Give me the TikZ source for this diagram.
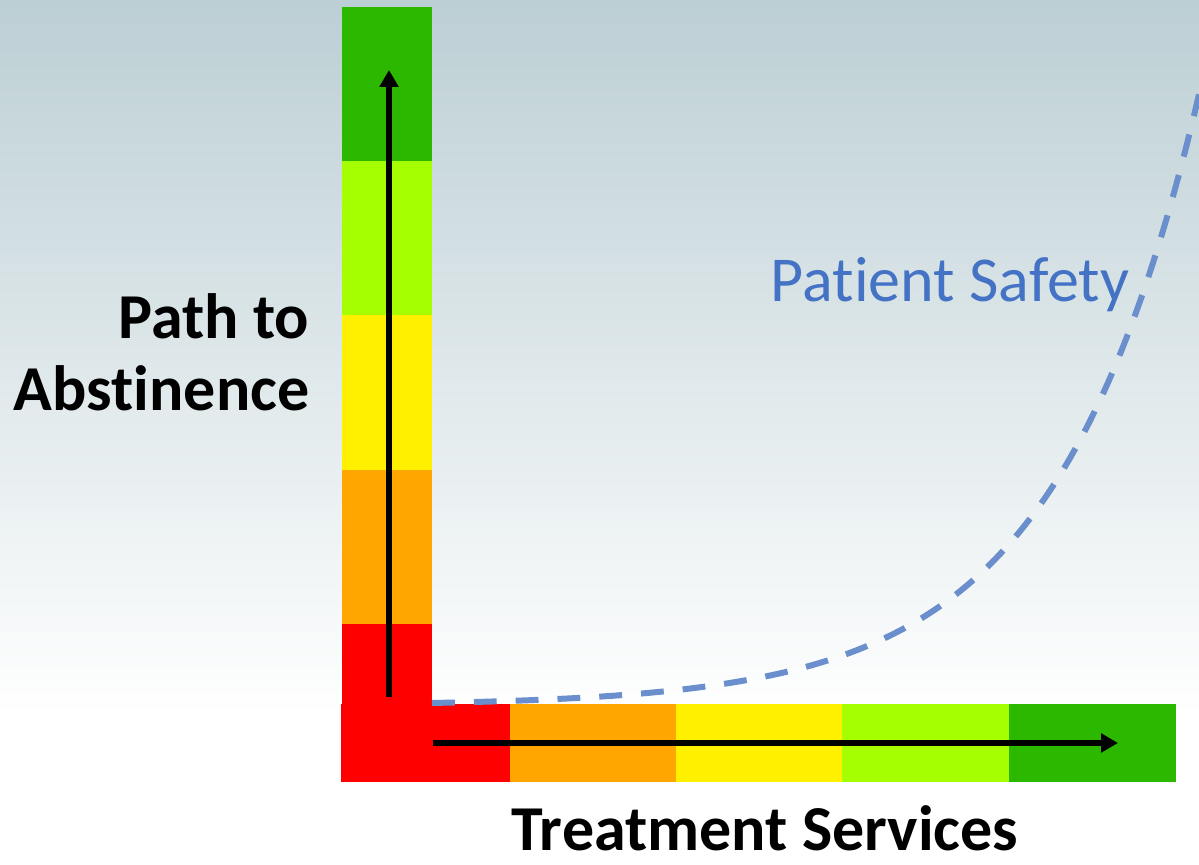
\documentclass[tikz,border=0pt]{standalone}
\usepackage{fontspec}
\setmainfont{Carlito}[Ligatures=NoCommon]
\usetikzlibrary{arrows.meta}

\definecolor{bgtop}{RGB}{188,207,212}
\definecolor{segred}{RGB}{255,0,0}
\definecolor{segorange}{RGB}{255,166,0}
\definecolor{segyellow}{RGB}{255,240,0}
\definecolor{seglime}{RGB}{166,255,0}
\definecolor{seggreen}{RGB}{45,184,0}
\definecolor{safetyblue}{RGB}{68,114,196}
\definecolor{curveblue}{RGB}{106,143,204}

\tikzset{
  seg/.style={rectangle, inner sep=0pt, outer sep=0pt, draw=none},
  vseg/.style={seg, minimum width=0.9cm, minimum height=1.555cm},
  hseg/.style={seg, minimum width=1.675cm, minimum height=0.78cm},
  axisarrow/.style={line width=1.7pt, -{Triangle[width=5.2pt, length=4.8pt]}},
  axislabel/.style={inner sep=0pt, font=\fontsize{18.2pt}{20.5pt}\selectfont\bfseries},
  safetycurve/.style={curveblue, line width=1.7pt, dash pattern=on 6.5pt off 5.4pt}
}

\begin{document}
\begin{tikzpicture}[x=0.01cm, y=-0.01cm]
				\useasboundingbox (0,0) rectangle (1199,865);
				\shade[top color=bgtop, bottom color=white] (0,0) rectangle (1199,715);
				% vertical bar
				\node[vseg, fill=seggreen] (v5) at (387,85) {};
				\node[vseg, fill=seglime] (v4) at (387,239) {};
				\node[vseg, fill=segyellow] (v3) at (387,393) {};
				\node[vseg, fill=segorange] (v2) at (387,547.5) {};
				\node[vseg, fill=segred, minimum height=1.57cm] (v1) at (387,703) {};
				% horizontal bar
				\node[hseg, fill=segred, minimum width=1.69cm] (h1) at (426,743) {};
				\node[hseg, fill=segorange] (h2) at (593.5,743) {};
				\node[hseg, fill=segyellow] (h3) at (760,743) {};
				\node[hseg, fill=seglime] (h4) at (926,743) {};
				\node[hseg, fill=seggreen] (h5) at (1092.5,743) {};
				% arrows
				\coordinate (vfoot) at (389,697);
				\coordinate (vtip) at (389,70);
				\coordinate (hfoot) at (433,743);
				\coordinate (htip) at (1118,743);
				\draw[axisarrow] (vfoot) -- (vtip);
				\draw[axisarrow] (hfoot) -- (htip);
				% safety curve
				\draw[safetycurve] plot[domain=432:1199, samples=120]
					(\x, {703-2.84*(exp(0.007*(\x-432))-1)});
				% labels
				\node[axislabel, anchor=east, align=right] (pathlabel) at (310,352) {Path to\\Abstinence};
				\node[axislabel, anchor=base, text depth=0pt] (servlabel) at (765,851) {Treatment Services};
				\node[inner sep=0pt, font=\fontsize{18.2pt}{20.5pt}\selectfont, text=safetyblue, anchor=base] (safetylabel) at (950,302) {Patient Safety};
			\end{tikzpicture}
\end{document}
